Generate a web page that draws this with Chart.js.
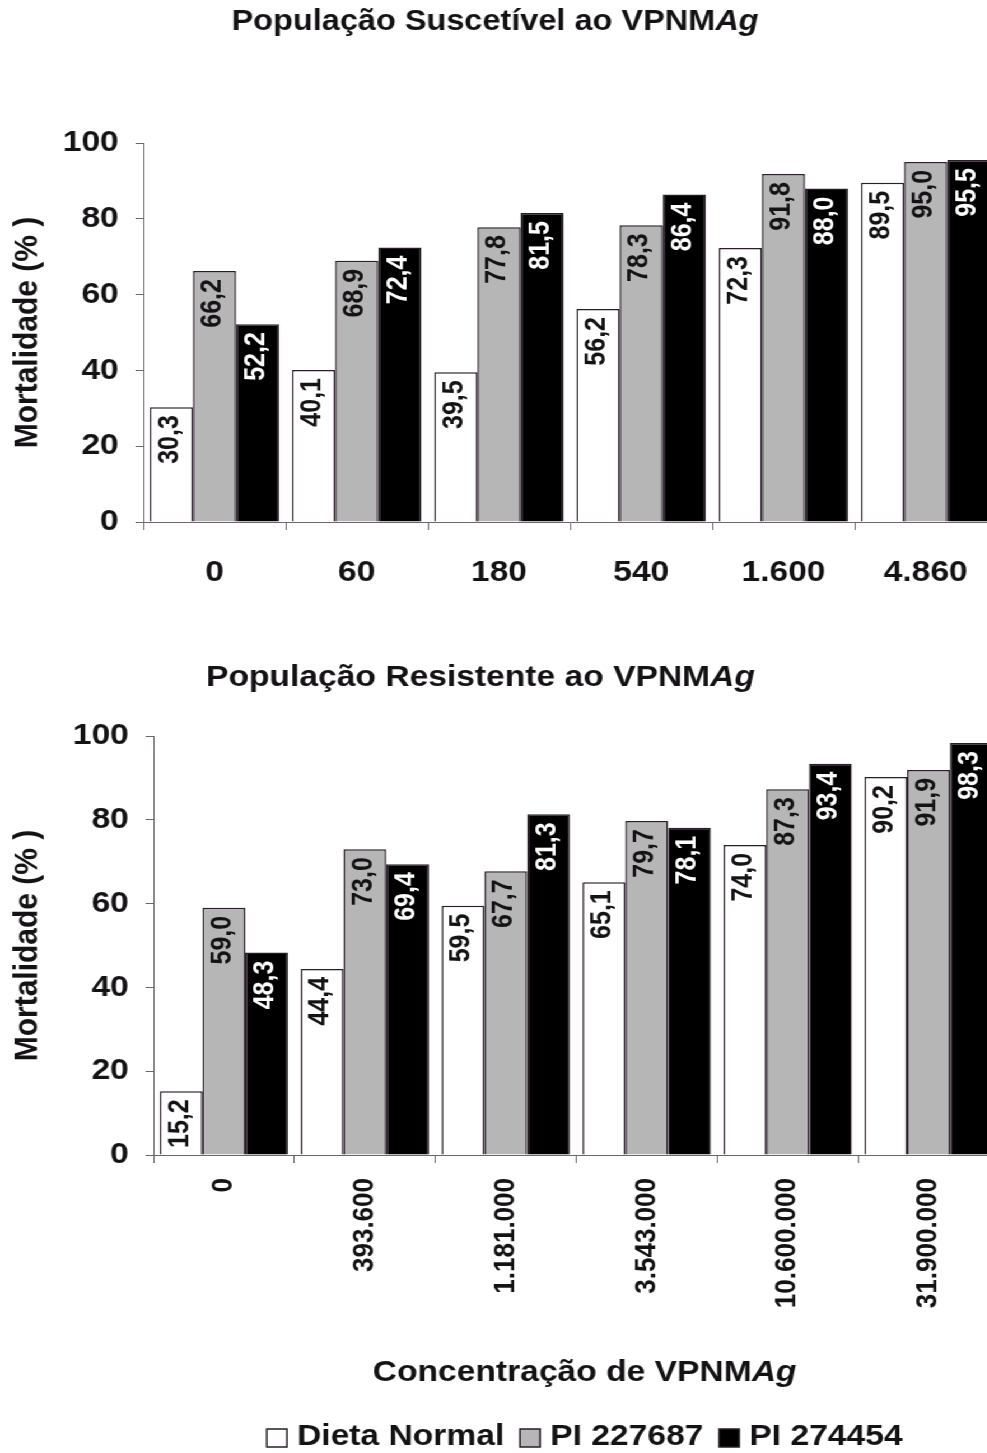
<!DOCTYPE html>
<html>
<head>
<meta charset="utf-8">
<script src="https://cdn.jsdelivr.net/npm/chart.js@4/dist/chart.umd.min.js"></script>
<style>
  html, body { margin: 0; padding: 0; background: #fff; overflow: hidden; width: 987px; height: 1453px; }
  #wrap { position: absolute; left: 0; top: 0; width: 895px; transform: scaleX(1.12); transform-origin: 0 0; }
  canvas { display: block; }
</style>
</head>
<body>
<div id="wrap">
  <canvas id="susc" width="895" height="630"></canvas>
  <canvas id="resi" width="895" height="832"></canvas>
</div>
<script>
// Mortality (%) by VPNMAg concentration, three diets
const seriesNames = ['Dieta Normal', 'PI 227687', 'PI 274454'];

const suscCategories = ['0', '60', '180', '540', '1.600', '4.860'];
const suscDietaNormal = [30.3, 40.1, 39.5, 56.2, 72.3, 89.5];
const suscPI227687   = [66.2, 68.9, 77.8, 78.3, 91.8, 95.0];
const suscPI274454   = [52.2, 72.4, 81.5, 86.4, 88.0, 95.5];

const resiCategories = ['0', '393.600', '1.181.000', '3.543.000', '10.600.000', '31.900.000'];
const resiDietaNormal = [15.2, 44.4, 59.5, 65.1, 74.0, 90.2];
const resiPI227687   = [59.0, 73.0, 67.7, 79.7, 87.3, 91.9];
const resiPI274454   = [48.3, 69.4, 81.3, 78.1, 93.4, 98.3];

const yTicks = [0, 20, 40, 60, 80, 100];

const FONT = '"Liberation Sans", Arial, Helvetica, sans-serif';
const INK = '#151215';
const EDGE = '#2a1d2a';
const fills = ['#ffffff', '#b6b6b6', '#000000'];
const labelInk = [INK, INK, '#ffffff'];

function makeDatasets(a, b, c) {
  return [a, b, c].map((data, i) => ({
    label: seriesNames[i],
    data,
    backgroundColor: fills[i],
    borderColor: EDGE,
    borderWidth: 1.5,
    labelColor: labelInk[i],
    categoryPercentage: 0.91,
    barPercentage: 1.0
  }));
}

// rotated value labels just inside the top of every bar
const barValueLabels = {
  id: 'barValueLabels',
  afterDatasetsDraw(chart) {
    const ctx = chart.ctx;
    ctx.save();
    ctx.font = `bold 25px ${FONT}`;
    ctx.textAlign = 'right';
    ctx.textBaseline = 'middle';
    chart.data.datasets.forEach((ds, di) => {
      const meta = chart.getDatasetMeta(di);
      meta.data.forEach((bar, i) => {
        const v = ds.data[i];
        ctx.save();
        ctx.translate(bar.x - 1, bar.y + 8);
        ctx.rotate(-Math.PI / 2);
        ctx.fillStyle = ds.labelColor;
        ctx.fillText(v.toFixed(1).replace('.', ','), 0, 0);
        ctx.restore();
      });
    });
    ctx.restore();
  }
};

// centred headings with an italic part, plus a compact legend row
const richText = {
  id: 'richText',
  afterDraw(chart, args, opts) {
    const ctx = chart.ctx;
    ctx.save();
    ctx.textBaseline = 'middle';
    ctx.textAlign = 'left';
    ctx.fillStyle = INK;
    (opts.items || []).forEach(item => {
      const fN = `bold ${item.size}px ${FONT}`;
      const fI = `italic bold ${item.size}px ${FONT}`;
      let total = 0;
      item.parts.forEach(p => { ctx.font = p.italic ? fI : fN; total += ctx.measureText(p.text).width; });
      let x = item.x - total / 2;
      item.parts.forEach(p => {
        ctx.font = p.italic ? fI : fN;
        ctx.fillText(p.text, x, item.y);
        x += ctx.measureText(p.text).width;
      });
    });
    const lg = opts.legend;
    if (lg) {
      ctx.font = `bold ${lg.size}px ${FONT}`;
      const ds = chart.data.datasets;
      const widths = ds.map(d => lg.box + lg.textGap + ctx.measureText(d.label).width);
      const total = widths.reduce((s, w) => s + w, 0) + lg.itemGap * (ds.length - 1);
      let x = lg.x - total / 2;
      ds.forEach((d, i) => {
        const by = lg.y - lg.box / 2 + 1;
        ctx.fillStyle = d.backgroundColor;
        ctx.fillRect(x, by, lg.box, lg.box);
        ctx.strokeStyle = EDGE;
        ctx.lineWidth = 1.5;
        ctx.strokeRect(x, by, lg.box, lg.box);
        ctx.fillStyle = INK;
        ctx.fillText(d.label, x + lg.box + lg.textGap, lg.y);
        x += widths[i] + lg.itemGap;
      });
    }
    ctx.restore();
  }
};

function yScale(width) {
  return {
    min: 0, max: 100,
    afterBuildTicks: s => { s.ticks = yTicks.map(v => ({ value: v })); },
    afterFit: s => { s.width = width; },
    border: { display: true, color: '#6d646d', width: 1 },
    grid: { drawOnChartArea: false, drawTicks: true, tickLength: 7, color: '#6d646d' },
    ticks: { color: INK, font: { family: FONT, size: 30, weight: 'bold' }, padding: 15 },
    title: {
      display: true, text: 'Mortalidade (% )', color: INK,
      font: { family: FONT, size: 30, weight: 'bold' }, padding: { top: 7, bottom: 0 }
    }
  };
}

Chart.defaults.animation = false;

new Chart(document.getElementById('susc'), {
  type: 'bar',
  data: { labels: suscCategories, datasets: makeDatasets(suscDietaNormal, suscPI227687, suscPI274454) },
  plugins: [barValueLabels, richText],
  options: {
    responsive: false,
    devicePixelRatio: 1,
    events: [],
    layout: { padding: { top: 143, right: 5, left: 0, bottom: 0 } },
    plugins: {
      legend: { display: false },
      tooltip: { enabled: false },
      richText: { items: [
        { x: 442, y: 22, size: 29, parts: [{ text: 'População Suscetível ao VPNM' }, { text: 'Ag', italic: true }] }
      ] }
    },
    scales: {
      x: {
        afterFit: s => { s.height = 108; },
        border: { display: true, color: '#6d646d', width: 1 },
        grid: { offset: true, drawOnChartArea: false, drawTicks: true, tickLength: 8, color: '#6d646d' },
        ticks: { color: INK, font: { family: FONT, size: 30, weight: 'bold' }, padding: 25, maxRotation: 0, minRotation: 0 }
      },
      y: yScale(128)
    }
  }
});

new Chart(document.getElementById('resi'), {
  type: 'bar',
  data: { labels: resiCategories, datasets: makeDatasets(resiDietaNormal, resiPI227687, resiPI274454) },
  plugins: [barValueLabels, richText],
  options: {
    responsive: false,
    devicePixelRatio: 1,
    events: [],
    layout: { padding: { top: 106, right: 3, left: 0, bottom: 0 } },
    plugins: {
      legend: { display: false },
      tooltip: { enabled: false },
      richText: {
        items: [
          { x: 429, y: 48, size: 30, parts: [{ text: 'População Resistente ao VPNM' }, { text: 'Ag', italic: true }] },
          { x: 522, y: 743, size: 30, parts: [{ text: 'Concentração de VPNM' }, { text: 'Ag', italic: true }] }
        ],
        legend: { x: 522, y: 807, size: 30, box: 18, textGap: 9, itemGap: 14 }
      }
    },
    scales: {
      x: {
        afterFit: s => { s.height = 307; },
        border: { display: true, color: '#6d646d', width: 1 },
        grid: { offset: true, drawOnChartArea: false, drawTicks: true, tickLength: 8, color: '#6d646d' },
        ticks: { color: INK, font: { family: FONT, size: 26, weight: 'bold' }, padding: 15, maxRotation: 90, minRotation: 90 }
      },
      y: yScale(137)
    }
  }
});
</script>
</body>
</html>
